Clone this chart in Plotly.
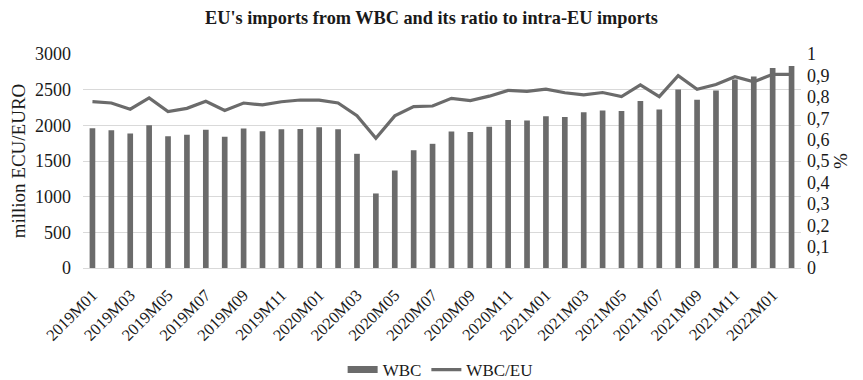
import plotly.graph_objects as go

months = [f"{y}M{m:02d}" for y in (2019, 2020, 2021) for m in range(1, 13)] + ["2022M01", "2022M02"]

wbc = [1960, 1930, 1885, 2000, 1847, 1867, 1937, 1839, 1955, 1917, 1945, 1950,
       1973, 1945, 1601, 1045, 1367, 1651, 1741, 1913, 1908, 1979, 2076, 2067,
       2127, 2118, 2183, 2207, 2202, 2342, 2221, 2501, 2357, 2487, 2641, 2683,
       2805, 2833]

ratio = [0.777, 0.771, 0.742, 0.795, 0.731, 0.746, 0.779, 0.736, 0.771, 0.762, 0.777, 0.785,
         0.784, 0.771, 0.712, 0.606, 0.711, 0.754, 0.757, 0.793, 0.782, 0.803, 0.830, 0.825,
         0.836, 0.819, 0.809, 0.820, 0.801, 0.856, 0.801, 0.899, 0.835, 0.857, 0.894, 0.870,
         0.905, 0.905]

x_tick_vals = months[::2]
y_left_ticks = [0, 500, 1000, 1500, 2000, 2500, 3000]
y_right_vals = [i / 10 for i in range(11)]
y_right_text = ["0", "0,1", "0,2", "0,3", "0,4", "0,5", "0,6", "0,7", "0,8", "0,9", "1"]

FONT = "Liberation Serif, Times New Roman, serif"
GRAY = "#6b6b6b"
TXT = "#1a1a1a"

fig = go.Figure()
fig.add_trace(go.Bar(x=months, y=wbc, name="WBC", marker=dict(color=GRAY, line=dict(width=0)),
                     yaxis="y", showlegend=False, legendgroup="wbc"))
# legend-only entry giving the wide rectangular swatch of the original
fig.add_trace(go.Scatter(x=[None], y=[None], name="WBC", mode="lines", legendgroup="wbc",
                         line=dict(color=GRAY, width=7), yaxis="y", hoverinfo="skip"))
fig.add_trace(go.Scatter(x=months, y=ratio, name="WBC/EU", mode="lines",
                         line=dict(color=GRAY, width=3.2), yaxis="y2"))

fig.update_layout(
    width=863, height=380,
    margin=dict(l=83, r=62, t=54, b=112, autoexpand=False),
    paper_bgcolor="white", plot_bgcolor="white",
    font=dict(family=FONT, size=17, color=TXT),
    title=dict(text="<b>EU's imports from WBC and its ratio to intra-EU imports</b>",
               x=0.5, xanchor="center", y=1 - 18 / 380, yanchor="middle",
               font=dict(size=18.3, family=FONT, color=TXT)),
    bargap=0.7,
    showlegend=True,
    legend=dict(orientation="h", x=0.51, xanchor="center", xref="container",
                y=1 - 370 / 380, yanchor="middle", yref="container",
                font=dict(size=17, family=FONT, color=TXT), traceorder="normal"),
    xaxis=dict(type="category", tickmode="array", tickvals=x_tick_vals, ticktext=x_tick_vals,
               tickangle=-45, showgrid=False, showline=True, linecolor="#d9d9d9", linewidth=1,
               ticks="", tickfont=dict(size=16.5, family=FONT, color=TXT), ticklabelstandoff=10,
               automargin=False),
    yaxis=dict(range=[0, 3000], tickmode="array", tickvals=y_left_ticks,
               showgrid=True, gridcolor="#d9d9d9", gridwidth=1, zeroline=False,
               title=dict(text="million ECU/EURO", font=dict(size=19, family=FONT, color=TXT), standoff=4),
               tickfont=dict(size=18, family=FONT, color=TXT), ticks="", ticklabelstandoff=11,
               automargin=False),
    yaxis2=dict(range=[0, 1], overlaying="y", side="right", tickmode="array",
                tickvals=y_right_vals, ticktext=y_right_text, showgrid=False, zeroline=False,
                title=dict(text="%", font=dict(size=19, family=FONT, color=TXT), standoff=4),
                tickfont=dict(size=18, family=FONT, color=TXT), ticks="", ticklabelstandoff=5,
                automargin=False),
)

fig.write_html("out.html")
